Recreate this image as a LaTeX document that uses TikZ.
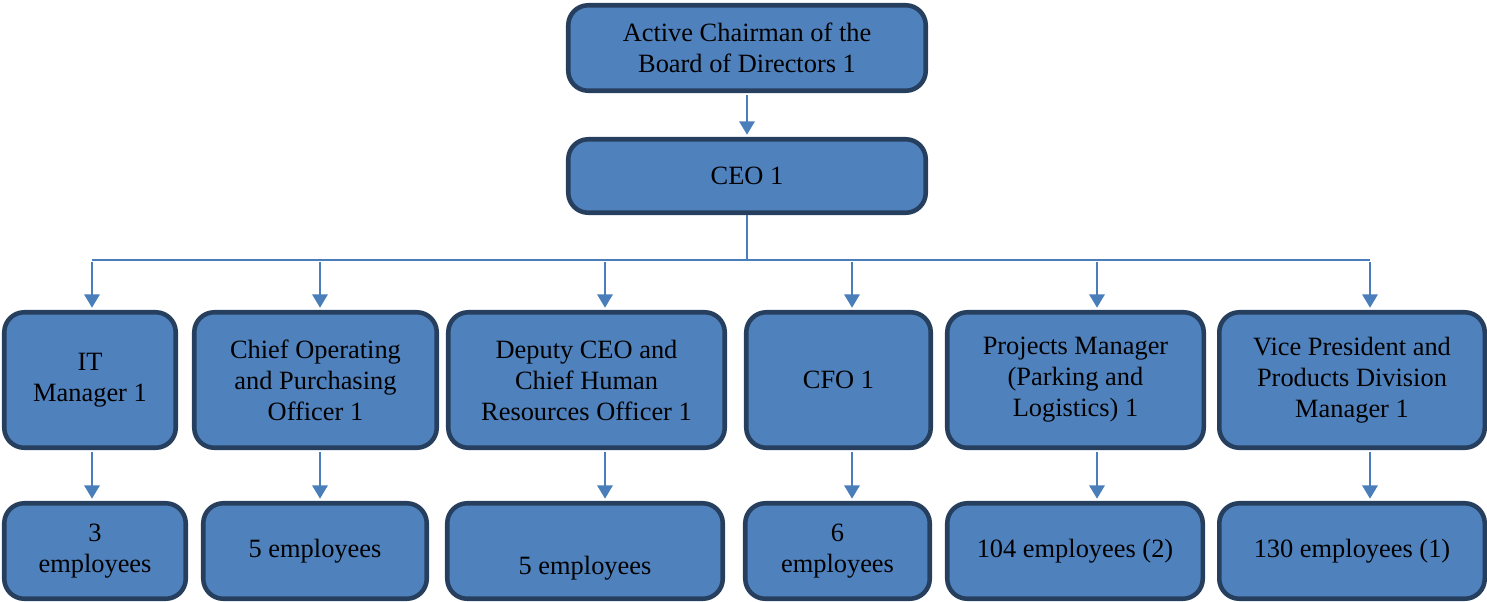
\documentclass[tikz,border=0pt]{standalone}
\usepackage{fontspec}
\setmainfont{Liberation Serif}
\usetikzlibrary{arrows.meta}
\definecolor{boxfill}{HTML}{4F81BD}
\definecolor{boxedge}{HTML}{263F5F}
\definecolor{linkcolor}{HTML}{4A7EBB}
\newcommand{\px}{0.75pt}
\newcommand{\boxline}{3.4pt}
\newcommand{\linkline}{1.5pt}

\begin{document}
\begin{tikzpicture}[x=0.75pt,y=-0.75pt,
  post/.style={draw=boxedge,fill=boxfill,line width=\boxline,rounded corners=15pt,
    align=center,inner sep=0pt,font=\fontsize{19.8}{23.25}\selectfont},
  link/.style={draw=linkcolor,line width=\linkline,-{Triangle[length=10pt,width=11.5pt]},
    shorten >=1.7pt,shorten <=1.7pt},
  bus/.style={draw=linkcolor,line width=\linkline}]
\useasboundingbox (0,0) rectangle (1487,601);
%top
\node[post,minimum width=357.5*\px,minimum height=85.5*\px] (chair) at (747,48) {Active Chairman of the\\Board of Directors 1};
\node[post,minimum width=357.5*\px,minimum height=73.5*\px] (ceo) at (747,176) {CEO 1};
%managers
\node[post,minimum width=171.5*\px,minimum height=135.5*\px] (it) at (90,380) {IT\\Manager 1};
\node[post,minimum width=242.5*\px,minimum height=135.5*\px] (coo) at (315.5,380) {Chief Operating\\and Purchasing\\Officer 1};
\node[post,minimum width=276.5*\px,minimum height=135.5*\px] (deputy) at (586.5,380) {Deputy CEO and\\Chief Human\\Resources Officer 1};
\node[post,minimum width=184.5*\px,minimum height=135.5*\px] (cfo) at (838.5,380) {CFO 1};
\node[post,minimum width=256.5*\px,minimum height=135.5*\px] (projects) at (1075.5,380) {Projects Manager\\(Parking and\\Logistics) 1};
\node[post,minimum width=265.5*\px,minimum height=135.5*\px] (vp) at (1352,380) {Vice President and\\Products Division\\Manager 1};
%staff
\node[post,minimum width=181.5*\px,minimum height=95.5*\px] (itstaff) at (95,551) {3\\employees};
\node[post,minimum width=223.5*\px,minimum height=95.5*\px] (coostaff) at (315,551) {5 employees};
\node[post,minimum width=275.5*\px,minimum height=95.5*\px] (deputystaff) at (585,551) {\mbox{}\\[16pt]5 employees};
\node[post,minimum width=184.5*\px,minimum height=95.5*\px] (cfostaff) at (837.5,551) {6\\employees};
\node[post,minimum width=255.5*\px,minimum height=95.5*\px] (projectsstaff) at (1075,551) {104 employees (2)};
\node[post,minimum width=265.5*\px,minimum height=95.5*\px] (vpstaff) at (1352,551) {130 employees (1)};
%bus
\coordinate (bus0) at (747,260);
\coordinate (bus1) at (92,260);
\coordinate (bus2) at (320,260);
\coordinate (bus3) at (605,260);
\coordinate (bus4) at (852,260);
\coordinate (bus5) at (1097,260);
\coordinate (bus6) at (1370,260);
\draw[link] (chair) -- (ceo);
\draw[bus] (ceo.south) -- (bus0);
\draw[bus] (bus1) -- (bus6);
\draw[link] (bus1) -- (bus1 |- it.north);
\draw[link] (bus2) -- (bus2 |- coo.north);
\draw[link] (bus3) -- (bus3 |- deputy.north);
\draw[link] (bus4) -- (bus4 |- cfo.north);
\draw[link] (bus5) -- (bus5 |- projects.north);
\draw[link] (bus6) -- (bus6 |- vp.north);
\draw[link] (bus1 |- it.south) -- (bus1 |- itstaff.north);
\draw[link] (bus2 |- coo.south) -- (bus2 |- coostaff.north);
\draw[link] (bus3 |- deputy.south) -- (bus3 |- deputystaff.north);
\draw[link] (bus4 |- cfo.south) -- (bus4 |- cfostaff.north);
\draw[link] (bus5 |- projects.south) -- (bus5 |- projectsstaff.north);
\draw[link] (bus6 |- vp.south) -- (bus6 |- vpstaff.north);
\end{tikzpicture}
\end{document}
